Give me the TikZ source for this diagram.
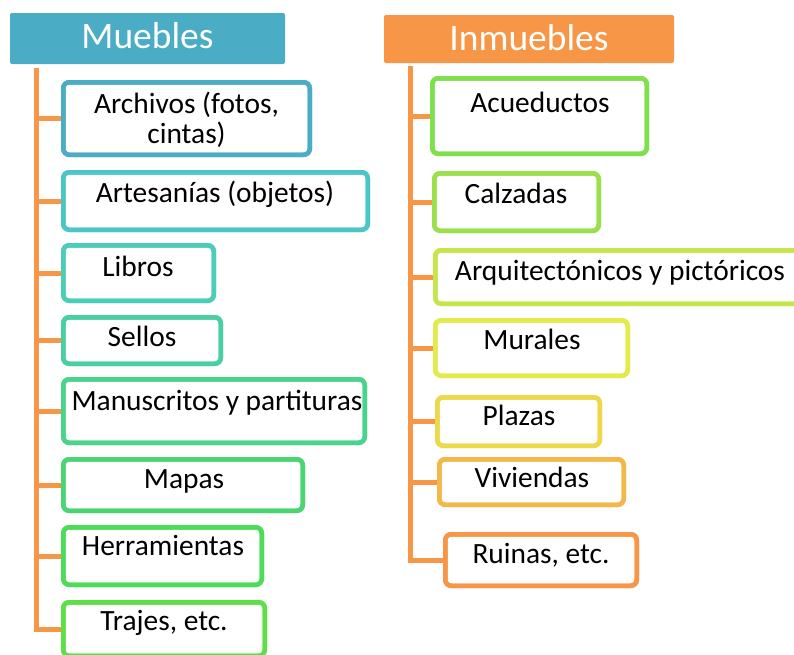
\documentclass[tikz,border=0pt]{standalone}
\usepackage{fontspec}
\setmainfont{Carlito}
\begin{document}
\begin{tikzpicture}[x=1pt,y=-1pt]
\definecolor{hblue}{HTML}{4BACC6}
\definecolor{horange}{HTML}{F79646}
\definecolor{c1}{HTML}{4BACC6}
\definecolor{c2}{HTML}{4BC6C8}
\definecolor{c3}{HTML}{4CCDB8}
\definecolor{c4}{HTML}{4ACFA0}
\definecolor{c5}{HTML}{4AD38A}
\definecolor{c6}{HTML}{4AD572}
\definecolor{c7}{HTML}{4CDC58}
\definecolor{c8}{HTML}{5CE046}
\definecolor{d1}{HTML}{7EE04A}
\definecolor{d2}{HTML}{9BE04A}
\definecolor{d3}{HTML}{C5E64B}
\definecolor{d4}{HTML}{E3EB4B}
\definecolor{d5}{HTML}{EDD84A}
\definecolor{d6}{HTML}{F3B84A}
\definecolor{d7}{HTML}{F79646}
\tikzset{
  hdr/.style={fill=#1, draw=none, rounded corners=2pt, inner sep=0pt, outer sep=0pt},
  hlbl/.style={text=white, font=\fontsize{37.5}{40}\selectfont, inner sep=0pt},
  bx/.style={draw=#1, line width=4.5pt, rounded corners=6pt, fill=white, inner sep=0pt, outer sep=0pt},
  lbl/.style={text=black, font=\fontsize{29.4}{30}\selectfont, inner sep=0pt, align=center},
  trunk/.style={draw=horange, line width=5pt, line join=miter},
}
\clip (0,0) rectangle (794,654);
\fill[white] (0,0) rectangle (794,654);
% headers
\node[hdr=hblue, minimum width=275pt, minimum height=51pt] (hm) at (147.5,38.5) {};
\node[hlbl, anchor=base] (hmt) at (147.5,48.5) {Muebles};
\node[hdr=horange, minimum width=290pt, minimum height=48pt] (hi) at (529,39) {};
\node[hlbl, anchor=base] (hit) at (529,50.5) {Inmuebles};
% trunk anchors
\coordinate (lt) at (36,68);
\coordinate (rt) at (410,66);
% left boxes
\node[bx=c1, minimum width=246.5pt, minimum height=72.5pt] (b1) at (186.5,118.5) {};
\node[bx=c2, minimum width=304.5pt, minimum height=57.5pt] (b2) at (215.5,201) {};
\node[bx=c3, minimum width=150.5pt, minimum height=55.5pt] (b3) at (138.5,273) {};
\node[bx=c4, minimum width=157.5pt, minimum height=46.5pt] (b4) at (142,340.5) {};
\node[bx=c5, minimum width=301.5pt, minimum height=63.5pt] (b5) at (214,411) {};
\node[bx=c6, minimum width=239.5pt, minimum height=51.5pt] (b6) at (183,485) {};
\node[bx=c7, minimum width=198.5pt, minimum height=57.5pt] (b7) at (162.5,556) {};
\node[bx=c8, minimum width=201.5pt, minimum height=53.5pt] (b8) at (164,629) {};
% right boxes
\node[bx=d1, minimum width=214.5pt, minimum height=75.5pt] (r1) at (539.5,116) {};
\node[bx=d2, minimum width=164.5pt, minimum height=57.5pt] (r2) at (516.5,202) {};
\node[bx=d3, minimum width=369.5pt, minimum height=53.5pt] (r3) at (620,277) {};
\node[bx=d4, minimum width=192.5pt, minimum height=55.5pt] (r4) at (531.5,348) {};
\node[bx=d5, minimum width=162.5pt, minimum height=48.5pt] (r5) at (518.5,421.5) {};
\node[bx=d6, minimum width=184.5pt, minimum height=45.5pt] (r6) at (531.5,482) {};
\node[bx=d7, minimum width=191.5pt, minimum height=51.5pt] (r7) at (541,560) {};
% trunks and branches
\draw[trunk] (lt) |- (b8.west);
\foreach \b in {b1,b2,b3,b4,b5,b6,b7} \draw[trunk] (lt |- \b.west) -- (\b.west);
\draw[trunk] (rt) |- (r7.west);
\foreach \b in {r1,r2,r3,r4,r5,r6} \draw[trunk] (rt |- \b.west) -- (\b.west);
% redraw box outlines over branch ends
\foreach \b/\c in {b1/c1,b2/c2,b3/c3,b4/c4,b5/c5,b6/c6,b7/c7,b8/c8,r1/d1,r2/d2,r3/d3,r4/d4,r5/d5,r6/d6,r7/d7}
  \draw[draw=\c, line width=4.5pt, rounded corners=6pt] (\b.north west) rectangle (\b.south east);
% labels
\node[lbl, anchor=base] (t1) at (186.5,143) {Archivos (fotos,\\cintas)};
\node[lbl, anchor=base] (t2) at (215,202) {Artesanías (objetos)};
\node[lbl, anchor=base] (t3) at (138,276) {Libros};
\node[lbl, anchor=base] (t4) at (142,346) {Sellos};
\node[lbl, anchor=base] (t5) at (217,410) {Manuscritos y partituras};
\node[lbl, anchor=base] (t6) at (184,488) {Mapas};
\node[lbl, anchor=base] (t7) at (163,555) {Herramientas};
\node[lbl, anchor=base] (t8) at (164,630) {Trajes, etc.};
\node[lbl, anchor=base] (s1) at (540,112) {Acueductos};
\node[lbl, anchor=base] (s2) at (516,203) {Calzadas};
\node[lbl, anchor=base] (s3) at (620,280) {Arquitectónicos y pictóricos};
\node[lbl, anchor=base] (s4) at (532,349) {Murales};
\node[lbl, anchor=base] (s5) at (519,425) {Plazas};
\node[lbl, anchor=base] (s6) at (532,487) {Viviendas};
\node[lbl, anchor=base] (s7) at (541,563) {Ruinas, etc.};
\end{tikzpicture}
\end{document}
